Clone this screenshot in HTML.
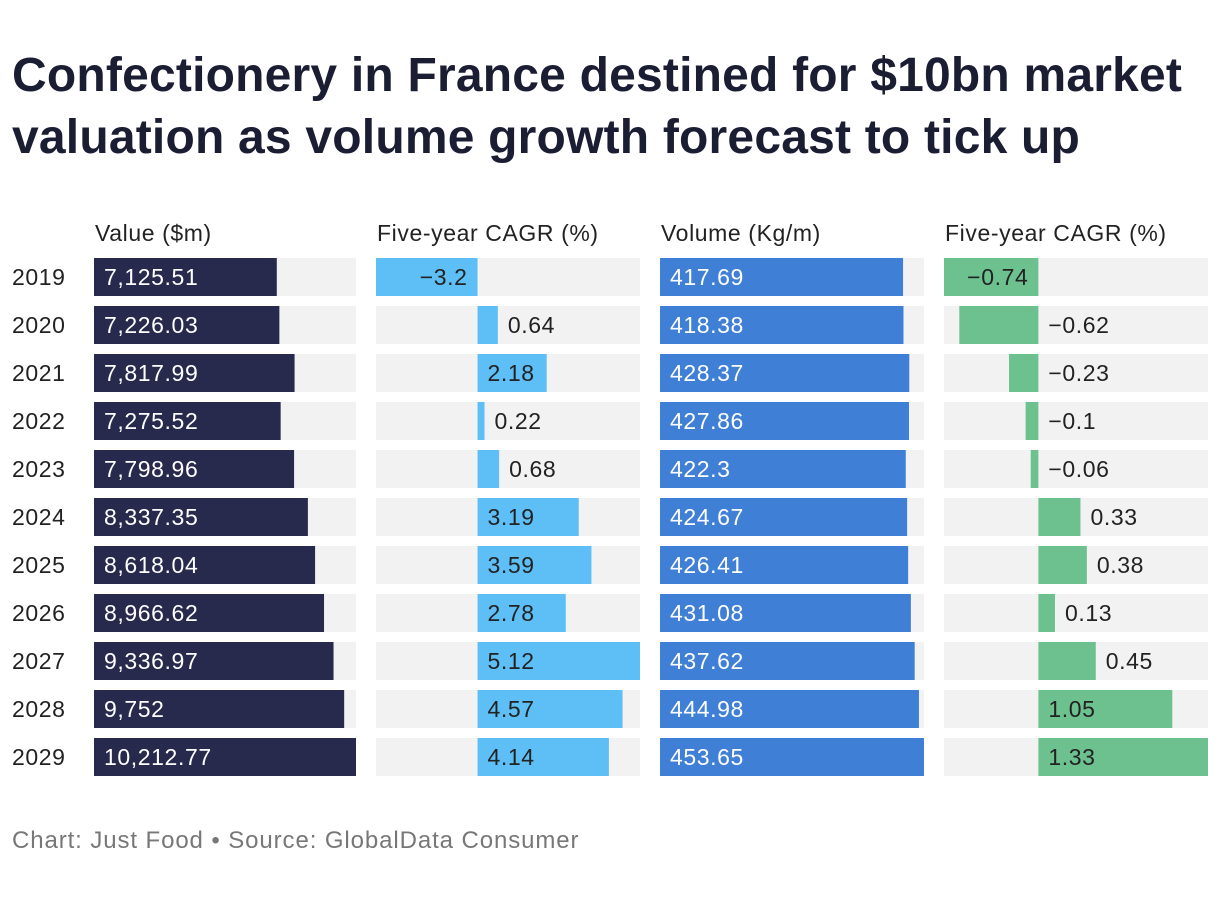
<!DOCTYPE html>
<html><head><meta charset="utf-8">
<style>
body{margin:0;background:#fff;width:1220px;height:900px;overflow:hidden;font-family:"Liberation Sans",sans-serif;}
h1{position:absolute;left:12px;top:45px;margin:0;font-size:48px;line-height:62px;font-weight:bold;color:#1b1d33;letter-spacing:0.2px;white-space:nowrap;}
#foot{position:absolute;left:12px;top:827px;font-size:24px;color:#777;letter-spacing:0.9px;}
svg{position:absolute;left:0;top:0;}
svg text{letter-spacing:0.6px;}
</style></head>
<body>
<h1>Confectionery in France destined for $10bn market<br>valuation as volume growth forecast to tick up</h1>
<svg id="chart" width="1220" height="900"></svg>
<div id="foot">Chart: Just Food • Source: GlobalData Consumer</div>
<script>
const years=["2019","2020","2021","2022","2023","2024","2025","2026","2027","2028","2029"];
const valueLabels=["7,125.51","7,226.03","7,817.99","7,275.52","7,798.96","8,337.35","8,618.04","8,966.62","9,336.97","9,752","10,212.77"];
const values=[7125.51,7226.03,7817.99,7275.52,7798.96,8337.35,8618.04,8966.62,9336.97,9752,10212.77];
const valueCagr=[-3.2,0.64,2.18,0.22,0.68,3.19,3.59,2.78,5.12,4.57,4.14];
const volumes=[417.69,418.38,428.37,427.86,422.3,424.67,426.41,431.08,437.62,444.98,453.65];
const volumeCagr=[-0.74,-0.62,-0.23,-0.1,-0.06,0.33,0.38,0.13,0.45,1.05,1.33];
const headers=["Value ($m)","Five-year CAGR (%)","Volume (Kg/m)","Five-year CAGR (%)"];

const svg=document.getElementById('chart');
const NS="http://www.w3.org/2000/svg";
function mk(t,a){const e=document.createElementNS(NS,t);for(const k in a)e.setAttribute(k,a[k]);svg.appendChild(e);return e;}
const y0=258,step=48,bh=38;
const cols=[{x:94,w:262},{x:376,w:264},{x:660,w:264},{x:944,w:264}];
function fmt(v){return v<0?"\u2212"+String(-v):String(v);}
function textW(s){return s.length*12;}

headers.forEach((h,i)=>{const t=mk('text',{x:cols[i].x+1,y:241,'font-size':23,fill:'#222'});t.textContent=h;

});

function column(ci,data,labels,color,txtColor,name){
  const c=cols[ci];
  const mn=Math.min(0,...data),mx=Math.max(0,...data);
  const sx=v=>c.x+(v-mn)/(mx-mn)*c.w;
  data.forEach((v,i)=>{
    const y=y0+i*step;
    const bg=mk('rect',{x:c.x,y:y,width:c.w,height:bh,fill:'#f2f2f2'});
    
    
    const a=sx(Math.min(0,v)),b=sx(Math.max(0,v));
    const r=mk('rect',{x:a,y:y,width:Math.max(b-a,0.5),height:bh,fill:color});
    
    
    const s=labels?labels[i]:fmt(v);
    const tw=textW(s);const z=sx(0);
    let tx,anchor='start',fill=txtColor;
    if(v>=0){
      if(b-a>tw+18){tx=z+10;}else{tx=b+10;fill='#222';}
    }else{
      if(b-a>tw+25){tx=z-10;anchor='end';}else{tx=z+10;fill='#222';}
    }
    const t=mk('text',{x:tx,y:y+27,'font-size':23,fill:fill,'text-anchor':anchor});
    t.textContent=s;
    
    
  });
}
years.forEach((yr,i)=>{const t=mk('text',{x:12,y:y0+i*step+27,'font-size':23,fill:'#222'});t.textContent=yr;

});
column(0,values,valueLabels,'#272a4d','#fff','value');
column(1,valueCagr,null,'#5ebff6','#222','value-cagr');
column(2,volumes,null,'#3f7fd6','#fff','volume');
column(3,volumeCagr,null,'#6cc18f','#222','volume-cagr');
</script>
</body></html>
